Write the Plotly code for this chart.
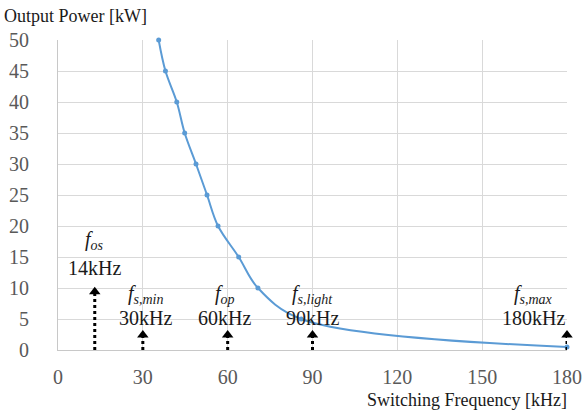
import plotly.graph_objects as go

# Data
freq_khz = [35.6, 38.0, 42.0, 44.8, 48.8, 52.7, 56.6, 63.9, 70.7, 86.0, 180.0]
power_kw = [50, 45, 40, 35, 30, 25, 20, 15, 10, 5, 0.5]

marker_x = [13, 30, 60, 90, 180]
marker_top = [10, 3, 3, 3, 3]
marker_sym = ["<i>f</i><sub><i>os</i></sub>", "<i>f</i><sub><i>s,min</i></sub>", "<i>f</i><sub><i>op</i></sub>",
              "<i>f</i><sub><i>s,light</i></sub>", "<i>f</i><sub><i>s,max</i></sub>"]
marker_val = ["14kHz", "30kHz", "60kHz", "90kHz", "180kHz"]

x_ticks = [0, 30, 60, 90, 120, 150, 180]
y_ticks = [0, 5, 10, 15, 20, 25, 30, 35, 40, 45, 50]

SERIF = "'Liberation Serif', 'Times New Roman', 'DejaVu Serif', serif"
BLUE = "#5B9BD5"
GRID = "#d9d9d9"

fig = go.Figure()

fig.add_trace(go.Scatter(
    x=freq_khz, y=power_kw, mode="lines+markers",
    line=dict(color=BLUE, width=2, shape="spline"),
    marker=dict(color=BLUE, size=5),
    showlegend=False, hoverinfo="skip", cliponaxis=False))

# dotted arrows
for xv, top in zip(marker_x, marker_top):
    fig.add_trace(go.Scatter(
        x=[xv, xv], y=[0, top - 0.9], mode="lines",
        line=dict(color="black", width=3, dash="dot"),
        showlegend=False, hoverinfo="skip"))
    fig.add_trace(go.Scatter(
        x=[xv], y=[top - 0.6], mode="markers",
        marker=dict(symbol="triangle-up", size=10, color="black"),
        showlegend=False, hoverinfo="skip", cliponaxis=False))

# labels
label_centers_x = [13, 31, 59, 90, 168]
sym_y = [17.6, 9.0, 9.0, 9.0, 9.0]
val_y = [13.2, 5.2, 5.2, 5.2, 5.2]
for cx, sy, vy, s, v in zip(label_centers_x, sym_y, val_y, marker_sym, marker_val):
    fig.add_annotation(x=cx, y=sy, text=s, showarrow=False,
                       font=dict(family=SERIF, size=20, color="#1a1a1a"))
    fig.add_annotation(x=cx, y=vy, text=v, showarrow=False,
                       font=dict(family=SERIF, size=20, color="#1a1a1a"))

fig.add_annotation(x=0, xref="paper", xanchor="left", xshift=-56,
                   y=1, yref="paper", yanchor="bottom", yshift=12,
                   text="Output Power [kW]", showarrow=False,
                   font=dict(family=SERIF, size=18, color="#1a1a1a"))
fig.add_annotation(x=1, xref="paper", xanchor="right", xshift=2,
                   y=0, yref="paper", yanchor="top", yshift=-38,
                   text="Switching Frequency [kHz]", showarrow=False,
                   font=dict(family=SERIF, size=18, color="#1a1a1a"))

fig.update_xaxes(range=[0, 180], tickvals=x_ticks, ticktext=[str(t) for t in x_ticks],
                 showgrid=True, gridcolor=GRID, gridwidth=1,
                 showline=True, linecolor="#c8c8c8", linewidth=1,
                 zeroline=False, ticks="", ticklabelstandoff=9, automargin=False,
                 tickfont=dict(family=SERIF, size=20, color="#595959"))
fig.update_yaxes(range=[0, 50], tickvals=y_ticks, ticktext=[str(t) for t in y_ticks],
                 showgrid=True, gridcolor=GRID, gridwidth=1,
                 showline=True, linecolor="#c8c8c8", linewidth=1,
                 zeroline=False, ticks="", ticklabelstandoff=24, automargin=False,
                 tickfont=dict(family=SERIF, size=20, color="#595959"))

fig.update_layout(width=584, height=411,
                  margin=dict(l=58, r=17, t=40, b=61),
                  plot_bgcolor="white", paper_bgcolor="white")

fig.write_html("out.html")
